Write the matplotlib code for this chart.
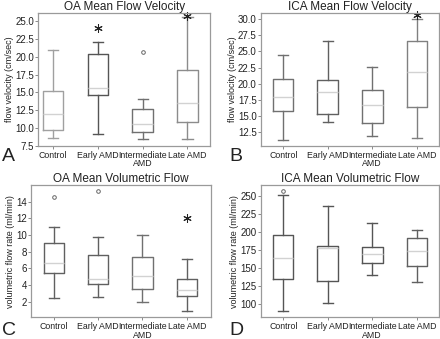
import matplotlib
matplotlib.use("Agg")
import matplotlib.pyplot as plt

plt.rcParams['font.family'] = ['Liberation Sans', 'DejaVu Sans']

groups = ["Control", "Early AMD", "Intermediate\nAMD", "Late AMD"]

# five-number summaries per group: whisker low, q1, median, q3, whisker high
oa_vel_low = [8.6, 9.2, 8.4, 8.5]
oa_vel_q1 = [9.7, 14.6, 9.4, 10.8]
oa_vel_med = [11.9, 15.6, 10.6, 13.5]
oa_vel_q3 = [15.2, 20.4, 12.7, 18.1]
oa_vel_high = [21.0, 22.0, 14.0, 25.5]

ica_vel_low = [11.4, 14.1, 11.9, 11.7]
ica_vel_q1 = [15.8, 15.3, 14.0, 16.5]
ica_vel_med = [18.0, 18.8, 16.7, 21.8]
ica_vel_q3 = [20.7, 20.6, 19.1, 26.6]
ica_vel_high = [24.4, 26.6, 22.6, 30.0]

oa_flow_low = [2.4, 2.6, 2.0, 0.85]
oa_flow_q1 = [5.45, 4.1, 3.5, 2.7]
oa_flow_med = [6.6, 4.75, 5.1, 3.4]
oa_flow_q3 = [9.0, 7.65, 7.35, 4.65]
oa_flow_high = [11.0, 9.8, 10.0, 7.15]

ica_flow_low = [90, 102, 140, 130]
ica_flow_q1 = [134, 132, 157, 152]
ica_flow_med = [164, 178, 169, 174]
ica_flow_q3 = [195, 180, 179, 191]
ica_flow_high = [251, 236, 212, 202]

# outliers: (group index, value, marker kind)
oa_vel_out = [(1, 24.0, "star"), (2, 20.6, "circle"), (3, 25.7, "star")]
ica_vel_out = [(3, 30.6, "star")]
oa_flow_out = [(0, 14.6, "circle"), (1, 15.3, "circle"), (3, 12.1, "star")]
ica_flow_out = [(0, 257, "circle")]

panels = [
    dict(title="OA Mean Flow Velocity", ylabel="flow velocity (cm/sec)",
         stats=(oa_vel_low, oa_vel_q1, oa_vel_med, oa_vel_q3, oa_vel_high),
         out=oa_vel_out, ylim=(7.5, 26.1), yticks=[7.5, 10, 12.5, 15, 17.5, 20, 22.5, 25],
         fmt="{:.1f}", xlim=(-0.33, 3.5), rect=[0.087, 0.570, 0.390, 0.391],
         colors=["#a0a0a0", "#555555", "#707070", "#8c8c8c"], letter="A", lpos=(0.004, 0.512)),
    dict(title="ICA Mean Flow Velocity", ylabel="flow velocity (cm/sec)",
         stats=(ica_vel_low, ica_vel_q1, ica_vel_med, ica_vel_q3, ica_vel_high),
         out=ica_vel_out, ylim=(10.45, 30.9), yticks=[12.5, 15, 17.5, 20, 22.5, 25, 27.5, 30],
         fmt="{:.1f}", xlim=(-0.5, 3.5), rect=[0.593, 0.570, 0.405, 0.391],
         colors=["#707070", "#606060", "#707070", "#808080"], letter="B", lpos=(0.522, 0.512)),
    dict(title="OA Mean Volumetric Flow", ylabel="volumetric flow rate (ml/min)",
         stats=(oa_flow_low, oa_flow_q1, oa_flow_med, oa_flow_q3, oa_flow_high),
         out=oa_flow_out, ylim=(0.1, 16.0), yticks=[2, 4, 6, 8, 10, 12, 14],
         fmt="{:d}", xlim=(-0.51, 3.54), rect=[0.071, 0.064, 0.408, 0.390],
         colors=["#606060", "#606060", "#707070", "#606060"], letter="C", lpos=(0.004, 0.0)),
    dict(title="ICA Mean Volumetric Flow", ylabel="volumetric flow rate (ml/min)",
         stats=(ica_flow_low, ica_flow_q1, ica_flow_med, ica_flow_q3, ica_flow_high),
         out=ica_flow_out, ylim=(81.6, 264.7), yticks=[100, 125, 150, 175, 200, 225, 250],
         fmt="{:d}", xlim=(-0.5, 3.5), rect=[0.593, 0.064, 0.405, 0.390],
         colors=["#555555", "#555555", "#555555", "#606060"], letter="D", lpos=(0.522, 0.0)),
]

fig = plt.figure(figsize=(4.40, 3.39), dpi=100)

for p in panels:
    ax = fig.add_axes(p["rect"])
    low, q1, med, q3, high = p["stats"]
    for i in range(len(groups)):
        st = [dict(whislo=low[i], q1=q1[i], med=med[i], q3=q3[i], whishi=high[i], fliers=[])]
        c = p["colors"][i]
        ax.bxp(st, positions=[i], widths=0.46, showfliers=False,
               boxprops=dict(color=c, linewidth=1.0),
               whiskerprops=dict(color=c, linewidth=1.0),
               capprops=dict(color=c, linewidth=1.0),
               medianprops=dict(color="#d2d2d2", linewidth=1.0),
               capwidths=0.23)

    for gi, val, kind in p["out"]:
        if kind == "star":
            ax.plot(gi, val, marker=(6, 2, 0), markersize=6, color="#222222",
                    markeredgewidth=0.75, linestyle="none", clip_on=False)
        else:
            ax.plot(gi, val, marker="o", markersize=2.6, markerfacecolor="white",
                    markeredgecolor="#666666", markeredgewidth=0.7, linestyle="none")

    ax.set_xlim(*p["xlim"])
    ax.set_ylim(*p["ylim"])
    ax.set_xticks(range(len(groups)))
    ax.set_xticklabels(groups, fontsize=6.3, color="#222222", linespacing=0.95)
    ax.set_yticks(p["yticks"])
    ax.set_yticklabels([p["fmt"].format(v) if p["fmt"] != "{:d}" else str(int(v))
                        for v in p["yticks"]], fontsize=7, color="#222222")
    ax.tick_params(length=2, width=0.6, color="#777777")
    ax.tick_params(axis="x", pad=1.5)
    ax.tick_params(axis="y", pad=1)
    for s in ax.spines.values():
        s.set_color("#9a9a9a")
        s.set_linewidth(0.9)
    ax.set_ylabel(p["ylabel"], fontsize=6.5, color="#222222", labelpad=1)
    ax.set_title(p["title"], fontsize=8.5, color="#222222", pad=2)
    # panel letter, bottom-left of each panel
    fig.text(p["lpos"][0], p["lpos"][1], p["letter"], fontsize=14, color="#222222",
             va="bottom")

fig.savefig("out.png", dpi=100)
